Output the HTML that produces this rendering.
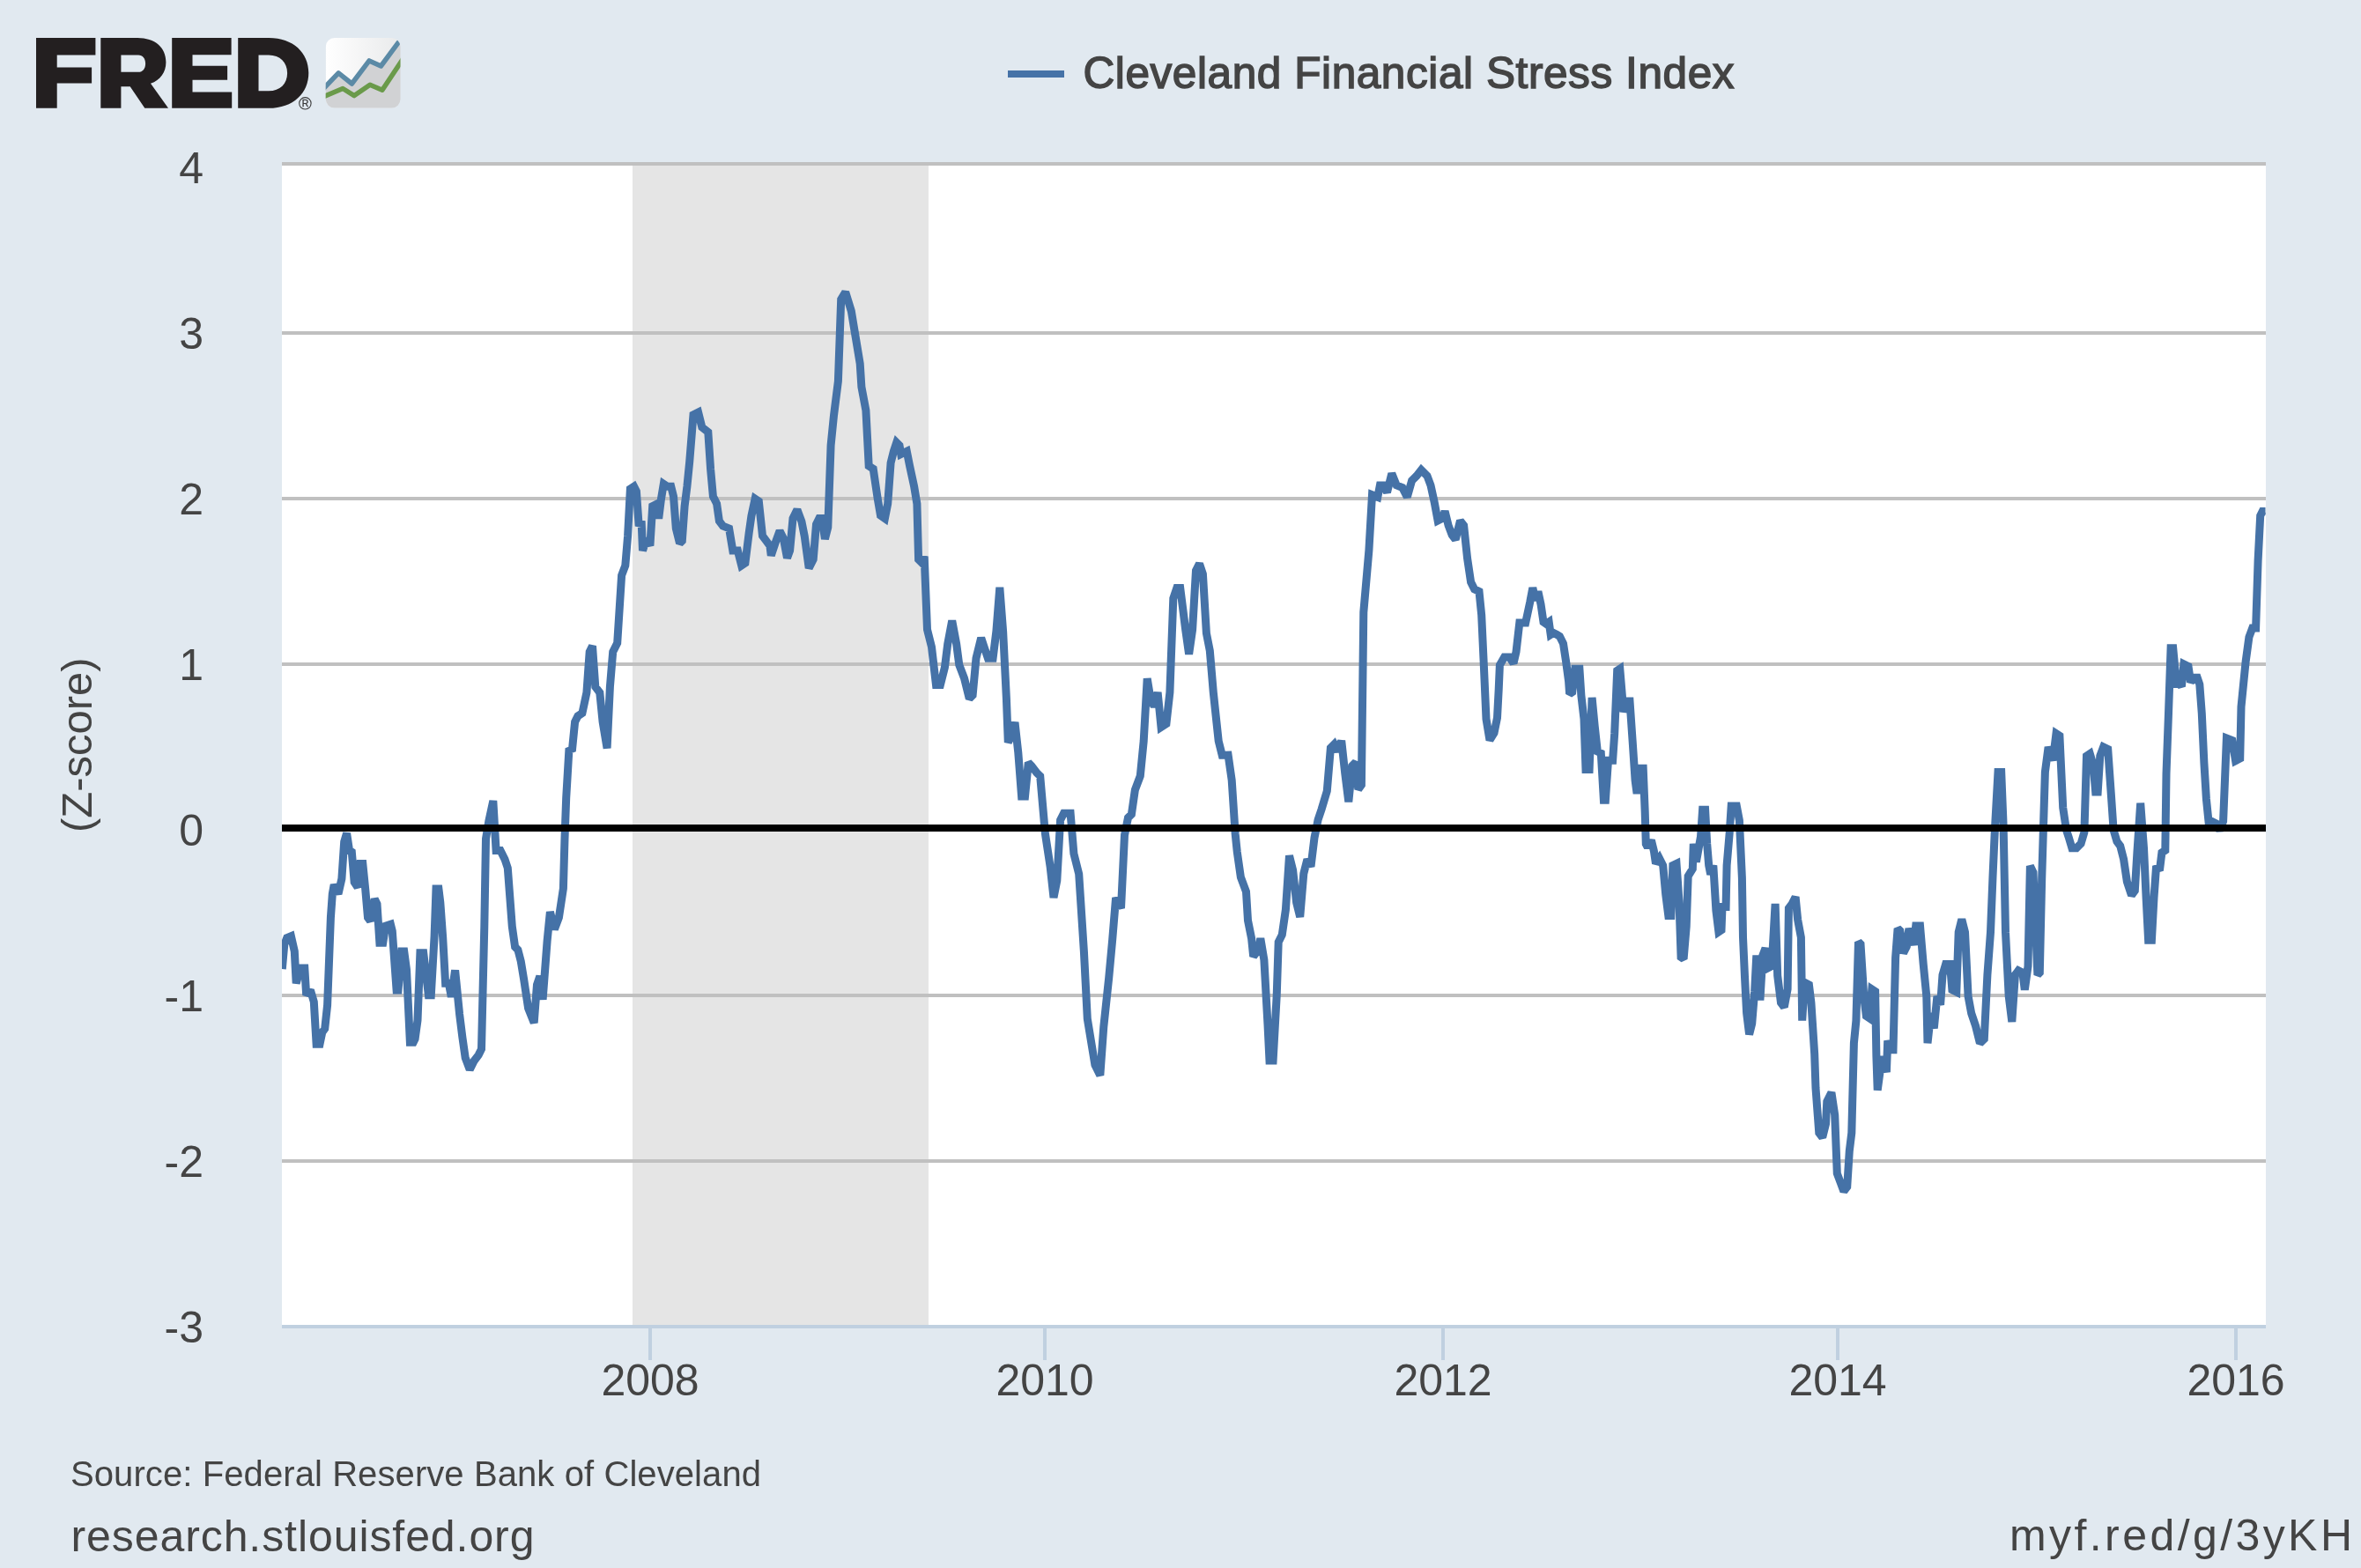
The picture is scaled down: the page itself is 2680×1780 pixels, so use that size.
<!DOCTYPE html>
<html><head><meta charset="utf-8">
<style>
html,body{margin:0;padding:0;background:#e1e9f0;width:2680px;height:1780px;overflow:hidden}
svg{display:block;will-change:transform}
text{font-family:"Liberation Sans", sans-serif;}
.lab{font-size:50px;fill:#444444}
</style></head><body>
<svg width="2680" height="1780" viewBox="0 0 2680 1780">
<defs>
<clipPath id="pc"><rect x="320" y="184" width="2252" height="1320"/></clipPath>
<linearGradient id="ig" x1="0" y1="0" x2="1" y2="0"><stop offset="0" stop-color="#ffffff"/><stop offset="1" stop-color="#e9eaeb"/></linearGradient>
<clipPath id="ic"><rect x="369.7" y="43" width="84.8" height="79.6" rx="10" ry="10"/></clipPath>
</defs>
<rect width="2680" height="1780" fill="#e1e9f0"/>
<!-- logo -->
<g fill="#231f20">
<path d="M41,43 H108.4 V62.6 H64.7 V76.4 H104.1 V94.4 H64.7 V122.8 H41 Z"/>
<path fill-rule="evenodd" d="M114.3,43 H156 C176,43 188.4,54 188.4,70.7 C188.4,82 182,91 171,94.8 L191,122.8 H164.3 L147.7,98.2 H137.4 V122.8 H114.3 Z M137.4,62.6 V81.8 H157 C162,81.8 165.1,78 165.1,72.2 C165.1,66.4 162,62.6 157,62.6 Z"/>
<path d="M195.2,43 H262.6 V62.2 H218.5 V74.7 H258.1 V90.8 H218.5 V104.4 H263.2 V122.8 H195.2 Z"/>
<path fill-rule="evenodd" d="M270.2,43 H305 C333,43 350.3,60 350.3,82.7 C350.3,105.5 333,122.8 305,122.8 H270.2 Z M293.5,62.6 V103.3 H305 C318,103.3 326.1,95 326.1,83 C326.1,71 318,62.6 305,62.6 Z"/>
</g>
<circle cx="346.4" cy="117.3" r="6.7" fill="none" stroke="#3a3a3a" stroke-width="1.1"/>
<text x="346.6" y="121.2" font-size="10.5" text-anchor="middle" fill="#3a3a3a" stroke="#3a3a3a" stroke-width="0.3">R</text>
<g clip-path="url(#ic)">
<rect x="369.7" y="43" width="84.8" height="79.6" fill="url(#ig)"/>
<path d="M360,107 L384.2,82.9 L399.4,95 L419.1,68.9 L432.4,75 L460,40 V130 H360 Z" fill="#d1d2d4"/>
<path d="M362,106 L384.2,82.9 L399.4,95 L419.1,68.9 L432.4,75 L452.1,48.3" fill="none" stroke="#5b8aa6" stroke-width="5.5" stroke-linejoin="round" stroke-linecap="round"/>
<path d="M362,112 L389.1,100.5 L402.1,108.6 L420,96.2 L433.9,102.3 L458,66" fill="none" stroke="#6a9a4a" stroke-width="5.5" stroke-linejoin="round"/>
</g>
<!-- legend -->
<rect x="1144" y="80" width="64" height="8" fill="#4572a7"/>
<text x="1229.5" y="99.8" font-size="49.5" fill="#444444" stroke="#444444" stroke-width="1.5" id="legend" textLength="739">Cleveland Financial Stress Index</text>
<!-- plot -->
<rect x="320" y="188" width="2252" height="1316" fill="#ffffff"/>
<rect x="718" y="188" width="336" height="1316" fill="#e5e5e5"/>
<rect x="320" y="184" width="2252" height="4" fill="#c0c0c0"/>
<rect x="320" y="376" width="2252" height="4" fill="#c0c0c0"/>
<rect x="320" y="564" width="2252" height="4" fill="#c0c0c0"/>
<rect x="320" y="752" width="2252" height="4" fill="#c0c0c0"/>
<rect x="320" y="1128" width="2252" height="4" fill="#c0c0c0"/>
<rect x="320" y="1316" width="2252" height="4" fill="#c0c0c0"/>

<g clip-path="url(#pc)">
<path d="M320.3,1100.0 L322.8,1072.2 L325.7,1064.6 L330.4,1062.7 L334.3,1079.9 L336.2,1116.3 L341.0,1099.0 L345.8,1099.0 L347.7,1129.7 L352.4,1123.9 L356.3,1137.3 L359.1,1185.2 L363.0,1185.2 L365.8,1171.8 L368.7,1167.9 L371.6,1141.1 L375.4,1041.6 L377.3,1014.8 L379.2,1004.3 L384.0,1014.8 L387.9,997.6 L390.7,955.5 L393.6,945.9 L396.5,965.1 L399.3,967.0 L402.2,1001.4 L406.0,1007.2 L408.9,980.4 L411.8,980.4 L414.7,1009.1 L417.5,1041.6 L420.4,1045.5 L425.2,1020.6 L428.0,1026.3 L430.9,1070.3 L434.7,1070.3 L437.6,1051.2 L443.4,1049.3 L445.3,1056.9 L450.1,1123.9 L452.0,1123.9 L455.8,1079.9 L458.7,1079.9 L461.5,1101.0 L465.4,1183.3 L469.2,1183.3 L471.1,1179.4 L474.0,1158.4 L476.9,1081.8 L480.7,1081.8 L486.4,1129.7 L489.3,1129.7 L493.1,1062.7 L495.0,1009.1 L497.9,1009.1 L499.8,1024.4 L502.7,1064.6 L505.6,1116.3 L509.4,1116.3 L512.3,1131.6 L516.6,1101.4 L521.6,1151.2 L524.9,1177.7 L528.2,1200.9 L533.2,1214.2 L538.2,1204.2 L543.2,1197.6 L546.5,1191.0 L549.8,1051.7 L551.5,952.2 L554.8,932.3 L559.8,909.1 L563.1,965.4 L568.0,965.4 L573.0,975.4 L576.3,985.3 L581.3,1051.7 L584.6,1074.9 L587.9,1078.2 L591.3,1091.5 L594.6,1111.4 L599.6,1144.5 L606.2,1161.1 L609.5,1118.0 L612.8,1108.1 L616.1,1134.6 L621.1,1068.3 L624.4,1035.1 L629.4,1055.0 L634.4,1041.7 L639.4,1008.6 L641.0,952.2 L642.7,905.7 L646.0,849.4 L649.3,852.7 L652.6,819.5 L655.9,812.9 L660.9,809.6 L665.9,786.3 L669.2,739.9 L672.5,733.3 L675.8,779.7 L680.8,786.3 L684.1,819.5 L689.1,849.4 L692.4,779.7 L695.7,739.9 L700.7,730.0 L705.6,653.2 L709.8,642.0 L712.6,608.3 L715.4,555.0 L719.6,552.2 L722.4,557.8 L725.2,597.1 L728.1,591.5 L729.5,625.1 L733.7,611.1 L737.9,619.5 L740.7,574.6 L746.3,571.8 L747.7,588.7 L750.5,566.2 L753.3,549.4 L757.5,552.2 L761.7,552.2 L764.5,563.4 L767.3,599.9 L771.5,616.7 L774.3,613.9 L777.1,574.6 L779.9,552.2 L782.7,524.2 L787.0,470.9 L792.6,468.1 L796.8,484.9 L803.8,490.5 L806.6,532.6 L809.4,563.4 L813.6,571.8 L816.4,591.5 L820.6,597.1 L827.6,599.9 L831.8,625.1 L837.4,625.1 L841.7,642.0 L845.9,639.2 L850.1,605.5 L852.9,585.9 L857.1,566.2 L861.3,569.0 L865.5,608.3 L869.7,613.9 L873.9,619.5 L875.3,630.7 L880.9,613.9 L885.1,602.7 L889.3,611.1 L893.5,633.5 L896.6,625.0 L900.0,588.6 L904.9,578.6 L909.9,591.9 L913.2,608.5 L918.2,644.9 L923.2,635.0 L926.5,595.2 L929.8,588.6 L933.1,588.6 L936.4,611.8 L939.8,598.5 L943.1,505.6 L946.4,472.5 L951.4,432.7 L954.7,339.8 L959.7,331.5 L966.3,353.1 L969.6,373.0 L976.2,412.8 L977.9,439.3 L982.9,465.8 L986.2,528.9 L991.2,532.2 L996.1,565.3 L999.5,585.2 L1004.4,588.6 L1007.7,572.0 L1011.1,525.5 L1014.4,512.3 L1017.7,502.3 L1021.0,505.6 L1022.7,515.6 L1029.3,512.3 L1032.6,528.9 L1037.6,552.1 L1040.9,572.0 L1042.6,635.0 L1045.9,638.3 L1049.2,631.7 L1052.5,714.6 L1057.5,734.5 L1062.5,777.6 L1067.4,777.6 L1072.4,757.7 L1075.7,731.2 L1080.7,704.6 L1085.7,731.2 L1088.8,754.8 L1094.6,770.1 L1100.3,793.1 L1104.1,789.3 L1108.0,747.2 L1113.7,724.2 L1117.5,735.7 L1121.4,747.2 L1127.1,747.2 L1130.9,716.5 L1134.8,666.8 L1138.6,716.5 L1142.4,793.1 L1144.3,842.8 L1148.1,835.2 L1152.0,819.9 L1155.8,854.3 L1159.6,904.1 L1163.5,904.1 L1167.3,865.8 L1171.1,869.6 L1176.8,877.3 L1180.7,881.1 L1186.4,946.2 L1192.2,984.4 L1196.0,1018.9 L1199.8,999.7 L1203.6,930.9 L1207.5,923.2 L1215.1,923.2 L1218.9,969.1 L1224.7,992.1 L1230.4,1080.1 L1234.3,1156.6 L1242.9,1208.9 L1248.8,1220.8 L1252.8,1165.5 L1258.7,1110.1 L1262.7,1066.6 L1266.6,1019.2 L1272.5,1031.1 L1276.5,948.1 L1280.5,928.3 L1284.4,924.3 L1288.4,896.7 L1294.3,880.9 L1298.2,841.3 L1302.2,770.2 L1306.1,793.9 L1310.1,801.8 L1314.1,786.0 L1318.0,825.5 L1323.9,821.6 L1327.9,786.0 L1331.8,679.3 L1335.8,667.4 L1339.7,667.4 L1345.7,714.9 L1349.6,742.5 L1353.6,714.9 L1357.5,647.7 L1361.5,639.8 L1365.4,651.6 L1369.4,718.8 L1373.3,738.6 L1377.3,786.0 L1383.2,841.3 L1387.2,857.2 L1391.1,857.2 L1394.1,857.1 L1398.2,885.7 L1402.2,946.9 L1404.3,967.3 L1408.4,995.9 L1414.5,1012.2 L1416.5,1044.9 L1420.6,1065.3 L1422.7,1085.7 L1428.8,1077.6 L1430.8,1065.3 L1434.9,1089.8 L1439.0,1163.3 L1441.0,1204.1 L1445.1,1204.1 L1449.2,1130.6 L1451.2,1069.4 L1455.3,1061.2 L1459.4,1032.7 L1463.5,971.4 L1467.6,987.8 L1471.6,1024.5 L1475.7,1040.8 L1479.8,991.8 L1483.9,975.5 L1488.0,983.7 L1492.0,951.0 L1496.1,930.6 L1500.2,918.4 L1506.3,898.0 L1510.4,849.0 L1514.5,844.9 L1518.6,853.1 L1522.7,840.8 L1526.7,877.6 L1530.8,910.2 L1534.9,869.4 L1539.0,865.3 L1541.8,896.0 L1545.4,891.0 L1547.8,695.0 L1553.9,624.7 L1557.5,561.8 L1563.8,564.3 L1566.4,550.9 L1570.5,550.9 L1574.5,558.9 L1579.8,537.5 L1585.2,550.9 L1591.9,553.6 L1597.3,564.3 L1602.6,545.6 L1608.0,540.2 L1613.3,533.5 L1620.0,540.2 L1624.0,550.9 L1628.1,569.7 L1632.1,591.1 L1637.4,588.4 L1640.1,580.4 L1644.1,596.5 L1648.2,607.2 L1652.2,612.5 L1657.5,591.1 L1661.6,596.5 L1665.6,634.0 L1669.6,660.8 L1673.6,668.8 L1679.0,671.5 L1681.7,698.3 L1684.3,754.6 L1687.0,816.2 L1691.0,840.3 L1696.0,832.0 L1699.5,815.0 L1701.2,782.7 L1702.4,755.0 L1707.6,746.0 L1713.3,746.0 L1718.0,753.0 L1721.0,740.0 L1724.8,707.0 L1731.7,707.0 L1736.7,683.7 L1739.8,667.3 L1742.9,681.6 L1745.9,671.4 L1749.0,685.7 L1752.0,706.1 L1755.1,708.2 L1758.2,706.1 L1760.2,720.4 L1763.3,718.4 L1767.3,720.4 L1770.4,722.4 L1774.5,730.6 L1777.6,751.0 L1780.6,773.5 L1781.6,787.8 L1784.7,785.7 L1787.8,759.2 L1792.9,759.2 L1794.9,789.8 L1798.0,816.3 L1800.0,873.5 L1804.1,873.5 L1807.1,791.8 L1810.2,824.5 L1813.3,853.1 L1817.3,855.1 L1820.4,908.2 L1822.4,908.2 L1825.5,863.3 L1830.6,863.3 L1832.7,832.7 L1835.7,761.2 L1838.8,759.2 L1842.9,808.2 L1846.9,795.9 L1850.0,795.9 L1853.1,840.8 L1856.1,885.7 L1858.1,900.8 L1861.1,872.2 L1865.2,872.2 L1867.2,921.2 L1868.3,958.0 L1870.3,962.0 L1874.4,953.9 L1877.4,966.1 L1879.5,980.4 L1883.6,974.3 L1887.7,982.4 L1890.7,1015.1 L1893.8,1039.6 L1896.8,1039.6 L1898.9,982.4 L1903.0,980.4 L1906.0,1023.3 L1908.1,1086.5 L1911.1,1088.6 L1914.2,1051.8 L1916.2,994.7 L1921.3,986.5 L1922.3,958.0 L1925.4,978.4 L1930.5,949.8 L1932.6,919.2 L1935.6,919.2 L1937.7,958.0 L1939.7,982.4 L1941.7,992.7 L1944.8,982.4 L1947.9,1033.5 L1950.9,1058.0 L1954.0,1055.9 L1955.0,1029.4 L1959.1,1029.4 L1960.1,982.4 L1963.2,945.7 L1965.2,915.1 L1971.3,915.1 L1974.4,931.4 L1977.4,996.7 L1978.5,1064.1 L1980.5,1109.0 L1982.6,1149.8 L1985.6,1174.3 L1988.7,1162.0 L1991.7,1125.3 L1993.8,1084.5 L1997.9,1135.5 L2000.9,1084.5 L2004.0,1076.3 L2007.0,1098.8 L2011.1,1096.7 L2015.1,1025.9 L2017.7,1107.6 L2021.5,1138.2 L2025.3,1143.3 L2029.1,1122.9 L2030.4,1031.0 L2034.2,1025.9 L2038.1,1018.3 L2040.6,1043.8 L2044.4,1064.2 L2045.7,1158.6 L2048.3,1115.2 L2053.4,1117.8 L2055.9,1138.2 L2059.7,1196.8 L2061.0,1235.1 L2064.8,1286.1 L2068.7,1291.2 L2072.5,1275.9 L2073.8,1250.4 L2078.9,1240.2 L2082.7,1265.7 L2085.3,1332.0 L2089.1,1342.2 L2092.9,1352.4 L2096.7,1347.3 L2099.3,1306.5 L2101.8,1286.1 L2104.4,1184.1 L2106.9,1158.6 L2109.5,1069.3 L2112.0,1071.8 L2115.9,1133.1 L2118.4,1153.5 L2122.2,1156.0 L2124.8,1122.9 L2128.6,1125.4 L2129.9,1199.4 L2131.2,1237.7 L2135.0,1209.6 L2137.6,1199.4 L2141.4,1217.2 L2142.7,1181.5 L2146.5,1191.7 L2149.0,1191.7 L2151.6,1087.1 L2154.1,1054.0 L2156.7,1056.5 L2160.5,1082.0 L2164.3,1074.4 L2166.9,1054.0 L2172.3,1072.7 L2174.7,1050.9 L2179.5,1050.9 L2183.2,1094.5 L2186.8,1130.9 L2188.0,1184.2 L2191.7,1150.3 L2195.3,1167.3 L2198.9,1130.9 L2202.6,1140.6 L2205.0,1106.7 L2208.6,1094.5 L2213.5,1094.5 L2215.9,1123.6 L2220.8,1126.1 L2223.2,1058.2 L2226.8,1043.6 L2230.5,1058.2 L2234.1,1130.9 L2237.7,1150.3 L2242.6,1164.8 L2247.4,1184.2 L2252.3,1179.4 L2255.9,1106.7 L2259.5,1058.2 L2262.0,995.2 L2264.4,941.8 L2268.0,876.4 L2271.7,876.4 L2274.1,937.0 L2276.5,1058.2 L2280.2,1130.9 L2283.8,1160.0 L2287.4,1106.7 L2291.1,1101.8 L2295.9,1104.2 L2298.3,1123.6 L2302.0,1097.0 L2304.4,983.0 L2308.0,990.3 L2312.9,1106.7 L2315.3,1104.2 L2317.7,997.6 L2321.4,876.4 L2325.1,848.0 L2330.2,863.3 L2334.0,832.7 L2337.9,835.2 L2341.7,916.8 L2345.5,942.3 L2348.1,950.0 L2351.9,962.8 L2357.0,962.8 L2362.1,957.7 L2365.9,944.9 L2368.5,858.2 L2372.3,855.6 L2376.1,868.4 L2378.7,899.0 L2381.2,899.0 L2383.8,858.2 L2387.6,848.0 L2392.7,850.5 L2396.5,904.1 L2399.1,942.3 L2402.9,955.1 L2406.7,960.2 L2410.6,975.5 L2414.4,1001.0 L2419.5,1016.3 L2423.3,1011.2 L2425.9,967.9 L2429.7,911.7 L2433.5,962.8 L2436.1,1018.9 L2438.6,1067.3 L2442.4,1067.3 L2445.0,1018.9 L2447.6,983.2 L2451.4,988.3 L2453.9,967.9 L2457.8,965.3 L2459.0,878.6 L2461.6,807.1 L2464.1,735.7 L2466.7,735.7 L2470.5,776.5 L2474.3,776.5 L2476.4,779.4 L2478.9,753.9 L2484.0,756.4 L2486.6,774.3 L2490.4,769.2 L2494.2,769.2 L2496.8,776.8 L2499.3,810.0 L2501.9,866.1 L2504.4,906.9 L2507.0,932.4 L2510.8,932.4 L2515.9,935.0 L2519.7,942.7 L2523.6,932.4 L2527.4,838.1 L2533.8,840.6 L2537.6,863.6 L2542.7,861.0 L2544.0,802.3 L2549.1,751.3 L2552.9,723.3 L2556.7,713.1 L2560.6,713.1 L2563.1,636.5 L2565.7,585.5 L2568.2,580.4 L2571.5,580.4" fill="none" stroke="#4572a7" stroke-width="9" stroke-linejoin="miter" stroke-miterlimit="2" stroke-linecap="butt"/>
</g>
<rect x="320" y="936" width="2252" height="8" fill="#000000"/>
<rect x="320" y="1504" width="2252" height="4" fill="#c0d0e0"/>
<rect x="736" y="1508" width="4" height="36" fill="#c0d0e0"/>
<rect x="1184" y="1508" width="4" height="36" fill="#c0d0e0"/>
<rect x="1636" y="1508" width="4" height="36" fill="#c0d0e0"/>
<rect x="2084" y="1508" width="4" height="36" fill="#c0d0e0"/>
<rect x="2536" y="1508" width="4" height="36" fill="#c0d0e0"/>

<text x="231" y="207.5" text-anchor="end" class="lab">4</text>
<text x="231" y="395.5" text-anchor="end" class="lab">3</text>
<text x="231" y="583.5" text-anchor="end" class="lab">2</text>
<text x="231" y="771.5" text-anchor="end" class="lab">1</text>
<text x="231" y="959.5" text-anchor="end" class="lab">0</text>
<text x="231" y="1147.5" text-anchor="end" class="lab">-1</text>
<text x="231" y="1335.5" text-anchor="end" class="lab">-2</text>
<text x="231" y="1523.5" text-anchor="end" class="lab">-3</text>

<text x="738" y="1584" text-anchor="middle" class="lab">2008</text>
<text x="1186" y="1584" text-anchor="middle" class="lab">2010</text>
<text x="1638" y="1584" text-anchor="middle" class="lab">2012</text>
<text x="2086" y="1584" text-anchor="middle" class="lab">2014</text>
<text x="2538" y="1584" text-anchor="middle" class="lab">2016</text>

<text transform="translate(103.8,845.75) rotate(-90)" text-anchor="middle" font-size="49" fill="#444444" id="ytitle">(Z-score)</text>
<!-- footer -->
<text x="80" y="1687.3" font-size="40" fill="#444444" id="src" textLength="784">Source: Federal Reserve Bank of Cleveland</text>
<text x="80.5" y="1760.5" font-size="50" fill="#444444" id="site" textLength="526">research.stlouisfed.org</text>
<text x="2281" y="1760" font-size="50" fill="#444444" id="myf" textLength="389">myf.red/g/3yKH</text>
</svg>
</body></html>
